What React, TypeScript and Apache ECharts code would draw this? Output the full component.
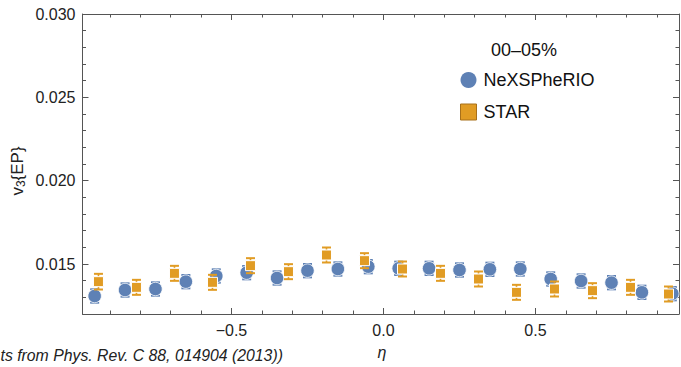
import React, { useEffect, useRef } from "react";
import * as echarts from "echarts";

const FONT = "Liberation Sans, Arial, Helvetica, sans-serif";
const BLUE = "#5E81B5";
const ORANGE = "#E19C24";

const X_MIN = -0.99;
const X_MAX = 0.972;
const Y_MIN = 0.012;
const Y_MAX = 0.03;

const xMajor = [-0.5, 0, 0.5];
const xMinor = [-0.9, -0.8, -0.7, -0.6, -0.4, -0.3, -0.2, -0.1, 0.1, 0.2, 0.3, 0.4, 0.6, 0.7, 0.8, 0.9];
const yMajor = [0.015, 0.02, 0.025, 0.03];
const yMinor = [0.013, 0.014, 0.016, 0.017, 0.018, 0.019, 0.021, 0.022, 0.023, 0.024, 0.026, 0.027, 0.028, 0.029];

const nexEta = [-0.95, -0.85, -0.75, -0.65, -0.55, -0.45, -0.35, -0.25, -0.15, -0.05, 0.05, 0.15, 0.25, 0.35, 0.45, 0.55, 0.65, 0.75, 0.85, 0.95];
const nexV = [0.01308, 0.01344, 0.0135, 0.01394, 0.01428, 0.01448, 0.01416, 0.0146, 0.0147, 0.01484, 0.01474, 0.01474, 0.01464, 0.01468, 0.0147, 0.0141, 0.01398, 0.01388, 0.0133, 0.01322];
const nexErr = [0.0004, 0.0004, 0.0004, 0.0004, 0.0004, 0.0004, 0.0004, 0.0004, 0.0004, 0.0004, 0.0004, 0.0004, 0.0004, 0.0004, 0.0004, 0.0004, 0.0004, 0.0004, 0.0004, 0.0004];

const starEta = [-0.9375, -0.8125, -0.6875, -0.5625, -0.4375, -0.3125, -0.1875, -0.0625, 0.0625, 0.1875, 0.3125, 0.4375, 0.5625, 0.6875, 0.8125, 0.9375];
const starV = [0.01394, 0.0136, 0.01444, 0.0139, 0.0149, 0.01454, 0.01554, 0.0152, 0.0147, 0.01444, 0.0141, 0.0133, 0.0135, 0.0134, 0.0136, 0.0132];
const starErr = [0.00047, 0.00045, 0.00045, 0.00045, 0.00045, 0.00045, 0.00045, 0.00045, 0.00045, 0.00045, 0.00045, 0.00045, 0.00045, 0.00045, 0.00045, 0.00045];

const centrality = "00–05%";
const seriesNames = ["NeXSPheRIO", "STAR"];
const footnote = "ts from Phys. Rev. C 88, 014904 (2013))";

const LINE = "#555";

function fmtX(v: number) {
  if (Math.abs(v) < 1e-9) return "0.0";
  return (v < 0 ? "−" : "") + Math.abs(v).toFixed(1);
}

function xAxisDef(position: "top" | "bottom", values: number[], len: number, labels: boolean, line: boolean) {
  return {
    type: "value",
    position,
    min: X_MIN,
    max: X_MAX,
    axisLine: { show: line, onZero: false, lineStyle: { color: LINE, width: 1 } },
    axisTick: { show: true, inside: true, length: len, customValues: values, lineStyle: { color: LINE, width: 1 } },
    axisLabel: labels
      ? { show: true, customValues: values, formatter: (v: number) => fmtX(v), fontFamily: FONT, fontSize: 16, color: "#222", margin: 8 }
      : { show: false },
    splitLine: { show: false },
  };
}

function yAxisDef(position: "left" | "right", values: number[], len: number, labels: boolean, line: boolean) {
  return {
    type: "value",
    position,
    min: Y_MIN,
    max: Y_MAX,
    axisLine: { show: line, onZero: false, lineStyle: { color: LINE, width: 1 } },
    axisTick: { show: true, inside: true, length: len, customValues: values, lineStyle: { color: LINE, width: 1 } },
    axisLabel: labels
      ? { show: true, customValues: values, formatter: (v: number) => v.toFixed(3), fontFamily: FONT, fontSize: 16, color: "#222", margin: 7 }
      : { show: false },
    splitLine: { show: false },
  };
}

function errorBars(color: string, capHalf: number) {
  return (params: any, api: any) => {
    const x = api.value(0);
    const y = api.value(1);
    const e = api.value(2);
    const top = api.coord([x, y + e]);
    const bot = api.coord([x, y - e]);
    const style = { stroke: color, lineWidth: 1.6 };
    return {
      type: "group",
      children: [
        { type: "line", shape: { x1: top[0], y1: top[1], x2: bot[0], y2: bot[1] }, style },
        { type: "line", shape: { x1: top[0] - capHalf, y1: top[1], x2: top[0] + capHalf, y2: top[1] }, style: { stroke: color, lineWidth: 2 } },
        { type: "line", shape: { x1: bot[0] - capHalf, y1: bot[1], x2: bot[0] + capHalf, y2: bot[1] }, style: { stroke: color, lineWidth: 2 } },
      ],
    };
  };
}

export default function App() {
  const ref = useRef<HTMLDivElement>(null);

  useEffect(() => {
    if (!ref.current) return;
    const chart = echarts.init(ref.current, null, { renderer: "svg" });

    const nexData = nexEta.map((x, i) => [x, nexV[i]]);
    const nexErrData = nexEta.map((x, i) => [x, nexV[i], nexErr[i]]);
    const starData = starEta.map((x, i) => [x, starV[i]]);
    const starErrData = starEta.map((x, i) => [x, starV[i], starErr[i]]);

    chart.setOption({
      animation: false,
      backgroundColor: "#fff",
      grid: { left: 82.5, right: 2, top: 14, bottom: 53, containLabel: false },
      xAxis: [
        xAxisDef("bottom", xMajor, 6, true, true),
        xAxisDef("bottom", xMinor, 3.5, false, false),
        xAxisDef("top", xMajor, 6, false, true),
        xAxisDef("top", xMinor, 3.5, false, false),
      ],
      yAxis: [
        yAxisDef("left", yMajor, 6, true, true),
        yAxisDef("left", yMinor, 3.5, false, false),
        yAxisDef("right", yMajor, 6, false, true),
        yAxisDef("right", yMinor, 3.5, false, false),
      ],
      legend: {
        orient: "vertical",
        left: 455,
        top: 66,
        itemWidth: 16,
        itemHeight: 16,
        itemGap: 14,
        textStyle: { fontFamily: FONT, fontSize: 18, color: "#111", padding: [0, 0, 0, 2] },
        data: [
          { name: seriesNames[0], icon: "circle", itemStyle: { color: BLUE, borderWidth: 0 } },
          { name: seriesNames[1], icon: "rect", itemStyle: { color: ORANGE, borderColor: "#A8701A", borderWidth: 1 } },
        ],
      },
      graphic: [
        {
          type: "text",
          x: 524,
          y: 50,
          style: { text: centrality, fontFamily: FONT, fontSize: 18, fill: "#111", align: "center", verticalAlign: "middle" },
        },
        {
          type: "text",
          x: 17,
          y: 171,
          rotation: Math.PI / 2,
          style: {
            text: "{v|v}{s|3}{n|\u007BEP\u007D}",
            fontFamily: FONT,
            fontSize: 17,
            fill: "#222",
            align: "center",
            verticalAlign: "middle",
            rich: {
              v: { fontFamily: FONT, fontSize: 17, fill: "#222" },
              s: { fontFamily: FONT, fontSize: 12, fill: "#222", padding: [8, 0, 0, 0] },
              n: { fontFamily: FONT, fontSize: 17, fill: "#222" },
            },
          },
        },
        {
          type: "text",
          x: 382,
          y: 352,
          style: { text: "η", fontFamily: FONT, fontSize: 16, fontStyle: "italic", fill: "#222", align: "center", verticalAlign: "middle" },
        },
        {
          type: "text",
          x: 0.5,
          y: 355,
          style: { text: footnote, fontFamily: FONT, fontSize: 15.8, fontStyle: "italic", fill: "#222", align: "left", verticalAlign: "middle" },
        },
      ],
      series: [
        {
          type: "custom",
          xAxisIndex: 0,
          yAxisIndex: 0,
          renderItem: errorBars(BLUE, 4.5),
          data: nexErrData,
          encode: { x: 0, y: 1 },
          z: 2,
          silent: true,
        },
        {
          name: seriesNames[0],
          type: "scatter",
          xAxisIndex: 0,
          yAxisIndex: 0,
          symbol: "circle",
          symbolSize: 13.5,
          itemStyle: { color: BLUE, borderColor: "#fff", borderWidth: 0.8, opacity: 1 },
          data: nexData,
          z: 3,
        },
        {
          type: "custom",
          xAxisIndex: 0,
          yAxisIndex: 0,
          renderItem: errorBars(ORANGE, 4.5),
          data: starErrData,
          encode: { x: 0, y: 1 },
          z: 4,
          silent: true,
        },
        {
          name: seriesNames[1],
          type: "scatter",
          xAxisIndex: 0,
          yAxisIndex: 0,
          symbol: "rect",
          symbolSize: 10,
          itemStyle: { color: ORANGE, borderColor: "#fff", borderWidth: 1, opacity: 1 },
          data: starData,
          z: 5,
        },
      ],
    });

    return () => chart.dispose();
  }, []);

  return (
    <div
      ref={ref}
      style={{ position: "fixed", left: 0, top: 0, width: 681, height: 367, background: "#fff" }}
    />
  );
}
